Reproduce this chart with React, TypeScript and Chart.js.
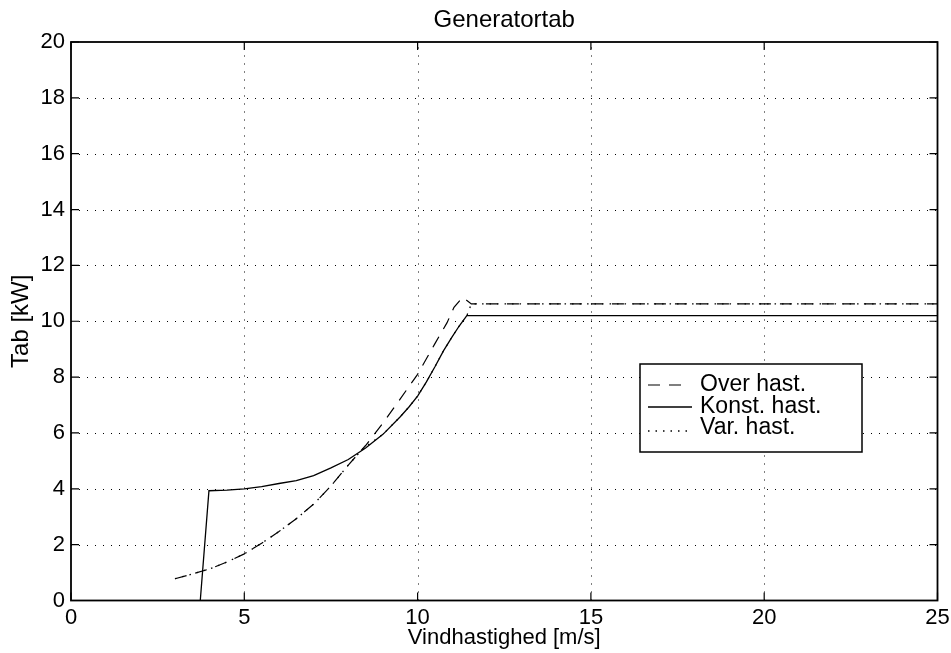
import { useEffect, useRef } from "react";
import { Chart, registerables } from "chart.js";

Chart.register(...registerables);

const FONT = '"Liberation Sans", Arial, Helvetica, sans-serif';

const titleText = "Generatortab";
const xTitle = "Vindhastighed [m/s]";
const yTitle = "Tab [kW]";

const xTicks = [0, 5, 10, 15, 20, 25];
const yTicks = [0, 2, 4, 6, 8, 10, 12, 14, 16, 18, 20];

const seriesLabels = ["Over hast.", "Konst. hast.", "Var. hast."];

const overX = [3.0, 3.5, 4.0, 4.5, 5.0, 5.5, 6.0, 6.5, 7.0, 7.5, 8.0, 8.5, 9.0, 9.5, 10.0, 10.5, 10.85, 11.05, 11.3, 11.55, 25];
const overY = [0.78, 0.95, 1.13, 1.38, 1.67, 2.05, 2.47, 2.93, 3.45, 4.1, 4.85, 5.55, 6.35, 7.22, 8.1, 9.2, 9.95, 10.5, 10.86, 10.62, 10.62];

const konstX = [3.73, 3.98, 4.5, 5.0, 5.5, 6.0, 6.5, 7.0, 7.5, 8.0, 8.5, 9.0, 9.5, 9.75, 10.0, 10.25, 10.5, 10.75, 11.0, 11.2, 11.42, 25];
const konstY = [0, 3.93, 3.95, 4.0, 4.08, 4.19, 4.29, 4.47, 4.75, 5.05, 5.46, 5.95, 6.58, 6.93, 7.32, 7.82, 8.37, 8.95, 9.45, 9.83, 10.2, 10.2];

const varX = [3.0, 3.5, 4.0, 4.5, 5.0, 5.5, 6.0, 6.5, 7.0, 7.5, 8.0, 8.45, 9.0, 9.5, 9.75, 10.0, 10.25, 10.5, 10.75, 11.0, 11.2, 11.42, 11.55, 25];
const varY = [0.78, 0.95, 1.13, 1.38, 1.67, 2.05, 2.47, 2.93, 3.45, 4.1, 4.85, 5.47, 5.95, 6.58, 6.93, 7.32, 7.82, 8.37, 8.95, 9.45, 9.83, 10.2, 10.62, 10.62];

const toPoints = (xs: number[], ys: number[]) => xs.map((x, i) => ({ x, y: ys[i] }));

const framePlugin = {
  id: "matlabFrame",
  beforeDatasetsDraw(chart: any) {
    const { ctx, chartArea } = chart;
    const { left, right, top, bottom } = chartArea;
    const xs = chart.scales.x;
    const ys = chart.scales.y;
    ctx.save();
    ctx.strokeStyle = "#000";
    ctx.lineWidth = 1;
    ctx.setLineDash([1, 7]);
    xTicks.forEach((v) => {
      const px = Math.round(xs.getPixelForValue(v)) + 0.5;
      if (px <= left + 2 || px >= right - 2) return;
      ctx.beginPath();
      ctx.moveTo(px, bottom);
      ctx.lineTo(px, top);
      ctx.stroke();
    });
    yTicks.forEach((v) => {
      const py = Math.round(ys.getPixelForValue(v)) + 0.5;
      if (py <= top + 2 || py >= bottom - 2) return;
      ctx.beginPath();
      ctx.moveTo(left, py);
      ctx.lineTo(right, py);
      ctx.stroke();
    });
    ctx.restore();
  },
  afterDatasetsDraw(chart: any) {
    const { ctx, chartArea } = chart;
    const { left, right, top, bottom } = chartArea;
    const xs = chart.scales.x;
    const ys = chart.scales.y;
    const tl = 8;
    ctx.save();
    ctx.strokeStyle = "#000";
    ctx.setLineDash([]);
    ctx.lineWidth = 1.2;
    xTicks.forEach((v) => {
      const px = xs.getPixelForValue(v);
      ctx.beginPath();
      ctx.moveTo(px, bottom);
      ctx.lineTo(px, bottom - tl);
      ctx.moveTo(px, top);
      ctx.lineTo(px, top + tl);
      ctx.stroke();
    });
    yTicks.forEach((v) => {
      const py = ys.getPixelForValue(v);
      ctx.beginPath();
      ctx.moveTo(left, py);
      ctx.lineTo(left + tl, py);
      ctx.moveTo(right, py);
      ctx.lineTo(right - tl, py);
      ctx.stroke();
    });
    ctx.lineWidth = 1.8;
    ctx.strokeRect(left, top, right - left, bottom - top);

    // legend
    const bx = 640, by = 364, bw = 222, bh = 88;
    ctx.fillStyle = "#fff";
    ctx.fillRect(bx, by, bw, bh);
    ctx.lineWidth = 1.5;
    ctx.strokeStyle = "#000";
    ctx.strokeRect(bx, by, bw, bh);
    const rows = [385, 407, 428];
    const lineOffsets = [0, 0, 3];
    const lineEnds = [685, 692, 692];
    ctx.font = `23px ${FONT}`;
    ctx.textBaseline = "middle";
    ctx.textAlign = "left";
    chart.data.datasets.forEach((ds: any, i: number) => {
      const y = rows[i];
      ctx.save();
      ctx.setLineDash(ds.borderDash || []);
      ctx.lineWidth = ds.borderWidth;
      ctx.strokeStyle = ds.borderColor;
      ctx.beginPath();
      ctx.moveTo(648, y + lineOffsets[i]);
      ctx.lineTo(lineEnds[i], y + lineOffsets[i]);
      ctx.stroke();
      ctx.restore();
      ctx.fillStyle = "#000";
      ctx.fillText(ds.label, 700, y);
    });
    ctx.restore();
  },
};

export default function App() {
  const ref = useRef<HTMLCanvasElement | null>(null);

  useEffect(() => {
    if (!ref.current) return;
    const chart = new Chart(ref.current, {
      type: "line",
      data: {
        datasets: [
          {
            label: seriesLabels[0],
            data: toPoints(overX, overY),
            borderColor: "#000",
            borderWidth: 1.2,
            borderDash: [12, 9],
            pointRadius: 0,
            tension: 0,
            fill: false,
          },
          {
            label: seriesLabels[1],
            data: toPoints(konstX, konstY),
            borderColor: "#000",
            borderWidth: 1.3,
            borderDash: [],
            pointRadius: 0,
            tension: 0,
            fill: false,
          },
          {
            label: seriesLabels[2],
            data: toPoints(varX, varY),
            borderColor: "#000",
            borderWidth: 1.3,
            borderDash: [1.5, 6],
            pointRadius: 0,
            tension: 0,
            fill: false,
          },
        ],
      },
      options: {
        animation: false,
        responsive: true,
        maintainAspectRatio: false,
        layout: { padding: { left: 0, right: 13.5, top: 0, bottom: 0 } },
        plugins: {
          legend: { display: false },
          tooltip: { enabled: false },
          title: {
            display: true,
            text: titleText,
            fullSize: false,
            color: "#000",
            font: { family: FONT, size: 24, weight: "normal" },
            padding: { top: 6, bottom: 7.2 },
          },
        },
        scales: {
          x: {
            type: "linear",
            min: 0,
            max: 25,
            afterBuildTicks: (s: any) => {
              s.ticks = xTicks.map((v) => ({ value: v }));
            },
            afterFit: (s: any) => {
              s.height = 52.5;
              s.paddingLeft = 0;
              s.paddingRight = 0;
            },
            grid: { display: false, drawTicks: false },
            border: { display: false },
            ticks: {
              color: "#000",
              padding: 4,
              maxRotation: 0,
              autoSkip: false,
              font: { family: FONT, size: 22 },
            },
            title: {
              display: true,
              text: xTitle,
              color: "#000",
              font: { family: FONT, size: 22 },
              padding: { top: 0, bottom: 1.8 },
            },
          },
          y: {
            type: "linear",
            min: 0,
            max: 20,
            afterBuildTicks: (s: any) => {
              s.ticks = yTicks.map((v) => ({ value: v }));
            },
            afterFit: (s: any) => {
              s.width = 71;
              s.paddingTop = 0;
              s.paddingBottom = 0;
            },
            grid: { display: false, drawTicks: false },
            border: { display: false },
            ticks: {
              color: "#000",
              padding: 6,
              autoSkip: false,
              font: { family: FONT, size: 22 },
            },
            title: {
              display: true,
              text: yTitle,
              color: "#000",
              font: { family: FONT, size: 24 },
              padding: { top: 6.6, bottom: 0 },
            },
          },
        },
      },
      plugins: [framePlugin],
    });
    return () => chart.destroy();
  }, []);

  return (
    <div style={{ position: "fixed", left: 0, top: 0, width: 951, height: 653, background: "#fff" }}>
      <canvas ref={ref} />
    </div>
  );
}
